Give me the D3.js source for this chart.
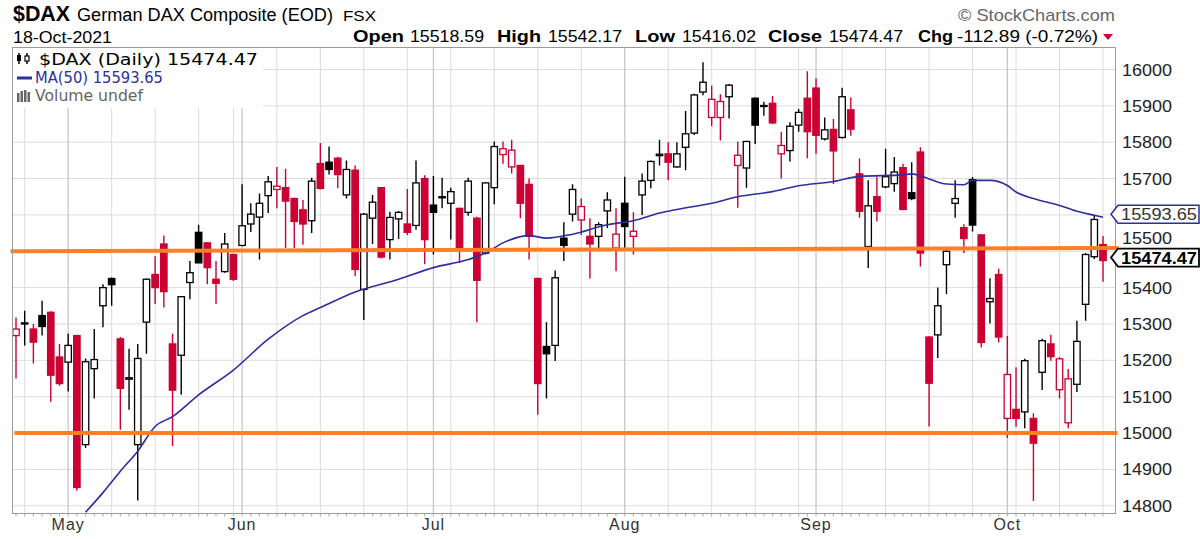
<!DOCTYPE html>
<html><head><meta charset="utf-8">
<script src="https://cdn.jsdelivr.net/npm/d3@7"></script>
<style>body{margin:0;background:#fff}svg{display:block}</style>
</head><body>
<svg id="c" width="1200" height="539"></svg>
<script>
// ---------------- data ----------------
const openP = [15268,15300,15286,15323,15332,15209,15195,15268,14968,15177,
15350,15425,15259,15148,14968,15305,15436,15520,15245,15214,
15414,15552,15523,15423,15444,15491,15516,15575,15594,15653,
15670,15675,15645,15614,15584,15741,15745,15756,15655,15723,
15395,15591,15675,15532,15589,15575,15571,15700,15627,15647,
15632,15618,15607,15591,15495,15675,15766,15732,15736,15684,
15425,15238,15241,15536,15602,15586,15541,15541,15611,15509,
15632,15541,15655,15695,15763,15768,15732,15786,15825,15938,
15868,15868,15925,15736,15729,15921,15899,15907,15768,15777,
15847,15921,15949,15809,15835,15813,15889,15713,15513,15650,
15677,15686,15730,15661,15773,15264,15270,15463,15632,15565,
15697,15545,15361,15436,15040,15065,15058,15040,15167,15245,
15119,15028,15134,15354,15485,15518.59];
const highP = [15318,15336,15300,15364,15335,15245,15273,15270,15205,15286,
15409,15428,15264,15232,15245,15425,15486,15543,15273,15375,
15473,15573,15525,15473,15550,15493,15684,15632,15659,15707,
15732,15727,15648,15641,15702,15798,15788,15760,15750,15736,
15605,15655,15677,15609,15611,15671,15750,15709,15707,15702,
15675,15620,15702,15595,15690,15802,15802,15807,15738,15700,
15427,15305,15447,15580,15684,15645,15591,15580,15662,15618,
15705,15607,15714,15750,15807,15800,15800,15886,15933,16020,
15955,15932,15960,15802,15804,15923,15911,15927,15829,15855,
15891,15995,15975,15868,15864,15950,15923,15755,15695,15705,
15782,15759,15741,15745,15786,15266,15400,15505,15695,15574,
15704,15547,15426,15452,15267,15181,15204,15054,15259,15270,
15209,15176,15309,15495,15599,15542.17];
const lowP = [15150,15241,15191,15268,15086,15130,15114,14841,14959,15095,
15291,15350,15009,15064,14814,15218,15355,15345,14964,15105,
15368,15468,15409,15355,15441,15418,15514,15553,15477,15605,
15618,15509,15509,15518,15550,15670,15711,15673,15645,15432,
15311,15520,15480,15477,15534,15545,15559,15464,15491,15618,
15532,15468,15598,15305,15491,15629,15741,15714,15591,15477,
15050,15095,15198,15473,15582,15545,15425,15509,15564,15445,
15509,15491,15600,15673,15736,15695,15730,15723,15820,15929,
15844,15805,15865,15620,15675,15795,15873,15850,15700,15747,
15829,15756,15768,15805,15685,15810,15818,15592,15454,15582,
15673,15664,15613,15640,15458,15018,15206,15382,15592,15495,
15554,15235,15301,15249,14986,15017,15013,14813,15118,15199,
15095,15013,15113,15309,15479,15416.02];
const closeP = [15286,15303,15250,15293,15159,15136,15241,14850,15196,15202,
15400,15408,15123,15152,15205,15423,15400,15389,15118,15375,
15441,15468,15455,15412,15520,15423,15570,15602,15632,15691,
15679,15638,15582,15575,15693,15673,15725,15711,15725,15450,
15602,15635,15484,15593,15607,15552,15688,15532,15607,15650,
15664,15509,15693,15420,15688,15788,15782,15778,15632,15541,
15136,15218,15427,15516,15670,15623,15520,15573,15641,15547,
15568,15555,15693,15747,15767,15745,15768,15823,15930,15965,
15918,15912,15957,15764,15802,15847,15901,15853,15791,15844,
15882,15829,15819,15834,15776,15925,15836,15610,15625,15610,
15705,15718,15615,15645,15495,15137,15350,15500,15645,15535,
15572,15249,15370,15264,15161,15040,15199,14972,15254,15210,
15204,15149,15252,15491,15587.36,15474.47];
const firstPrevClose = 15310;

// trading calendar (categories)
const startDate = "2021-04-23", endDate = "2021-10-18";
const holidays = ["2021-05-24"];

// 50-day moving average, read at selected candles (candle index, value)
const maIdx = [8,10,12,14,16,18,21,25,29,33,35,39,44,48,52,54,56,59,61,64,68,71,74,76,80,83,87,90,94,97,102,103,105,107,109,110,112,114,115,117,120,122,124,125];
const maVal = [14782,14836,14895,14950,15018,15045,15105,15173,15258,15323,15345,15388,15423,15455,15477,15495,15523,15543,15536,15547,15573,15584,15605,15615,15632,15650,15664,15680,15692,15706,15710,15713,15699,15685,15683,15695,15695,15681,15663,15645,15626,15610,15599,15593.65];

const yTickValues = [14800,14900,15000,15100,15200,15300,15400,15500,15600,15700,15800,15900,16000];
const hiddenTickLabels = [15600];   // covered by the MA value tag in the reference
const upperLine = [15500, 15509];   // orange trend line, left/right price
const lowerLine = [15000, 15000];   // orange support line
const lastClose = 15474.47, lastMA = 15593.65;
const header = {open:"15518.59", high:"15542.17", low:"15416.02", close:"15474.47", chg:"-112.89 (-0.72%)"};

// ---------------- layout ----------------
const svg = d3.select("#c");
const L = 12.5, R = 1115.5, T = 47.5, B = 513.5;
const RED = "#cc0033", ORANGE = "#ff7f27", NAVY = "#2e2e9e";

const parse = d3.utcParse("%Y-%m-%d"), fmt = d3.utcFormat("%Y-%m-%d");
const days = d3.utcDays(parse(startDate), d3.utcDay.offset(parse(endDate), 1))
  .filter(d => d.getUTCDay() !== 0 && d.getUTCDay() !== 6 && !holidays.includes(fmt(d)));
const n = closeP.length;

const x = d3.scaleLinear().domain([0, n - 1]).range([16, 1103]);
const y = d3.scaleLinear().domain([15000, 16000]).range([433, 69.5]);

svg.append("defs").append("clipPath").attr("id","clip")
  .append("rect").attr("x",L).attr("y",T).attr("width",R-L).attr("height",B-T);

// grid
const grid = svg.append("g");
const weekStarts = [], monthStarts = [];
days.forEach((d,i) => {
  if (i > 0 && +d3.utcMonday.floor(d) !== +d3.utcMonday.floor(days[i-1])) weekStarts.push(i);
  if (i > 0 && d.getUTCMonth() !== days[i-1].getUTCMonth()) monthStarts.push(i);
});
grid.selectAll("line.h").data(yTickValues).join("line")
  .attr("x1",L).attr("x2",R).attr("y1",d=>y(d)).attr("y2",d=>y(d))
  .attr("stroke","#dcdcdc").attr("stroke-width",1);
grid.selectAll("line.w").data(weekStarts.filter(i=>!monthStarts.includes(i))).join("line")
  .attr("x1",d=>x(d)).attr("x2",d=>x(d)).attr("y1",T).attr("y2",B)
  .attr("stroke","#dcdcdc").attr("stroke-width",1);
grid.selectAll("line.m").data(monthStarts).join("line")
  .attr("x1",d=>x(d)).attr("x2",d=>x(d)).attr("y1",T).attr("y2",B)
  .attr("stroke","#c8c8c8").attr("stroke-width",1.3);

// legend background
svg.append("rect").attr("x",L+0.5).attr("y",T+0.5).attr("width",250).attr("height",60).attr("fill","#fff");

// candles
const plot = svg.append("g").attr("clip-path","url(#clip)");
const cd = d3.range(n).map(i => {
  const prev = i === 0 ? firstPrevClose : closeP[i-1];
  return {i, o:openP[i], h:highP[i], l:lowP[i], c:closeP[i],
          col: closeP[i] >= prev ? "#000" : RED, filled: closeP[i] < openP[i]};
});
const bw = 6.4;
plot.selectAll("line.wick").data(cd).join("line")
  .attr("x1",d=>x(d.i)).attr("x2",d=>x(d.i)).attr("y1",d=>y(d.h)).attr("y2",d=>y(d.l))
  .attr("stroke",d=>d.col).attr("stroke-width",1.4);
plot.selectAll("rect.body").data(cd).join("rect")
  .attr("x",d=>x(d.i)-bw/2).attr("width",bw)
  .attr("y",d=>y(Math.max(d.o,d.c)))
  .attr("height",d=>Math.max(1, Math.abs(y(d.o)-y(d.c))))
  .attr("fill",d=>d.filled ? d.col : "#fff")
  .attr("stroke",d=>d.col).attr("stroke-width",1.3);

// MA line
plot.append("path").datum(maIdx.map((k,j)=>[k,maVal[j]]))
  .attr("d", d3.line().x(d=>x(d[0])).y(d=>y(d[1])).curve(d3.curveMonotoneX))
  .attr("fill","none").attr("stroke",NAVY).attr("stroke-width",1.6);

// orange lines
svg.append("line").attr("x1",L-2).attr("x2",R+3).attr("y1",y(upperLine[0])).attr("y2",y(upperLine[1]))
  .attr("stroke",ORANGE).attr("stroke-width",4);
svg.append("line").attr("x1",L+2).attr("x2",R+2).attr("y1",y(lowerLine[0])).attr("y2",y(lowerLine[1]))
  .attr("stroke",ORANGE).attr("stroke-width",4);

// frame
svg.append("rect").attr("x",L).attr("y",T).attr("width",R-L).attr("height",B-T)
  .attr("fill","none").attr("stroke","#9a9a9a").attr("stroke-width",1);

// bottom axis ticks & month labels
svg.selectAll("line.tk").data(d3.range(n)).join("line")
  .attr("x1",d=>x(d)).attr("x2",d=>x(d)).attr("y1",B).attr("y2",B+3)
  .attr("stroke","#aaa").attr("stroke-width",1);
const monthFmt = d3.utcFormat("%b");
svg.selectAll("text.mon").data(monthStarts).join("text")
  .attr("x",d=>x(d)).attr("y",530).attr("text-anchor","middle")
  .attr("font-family","Liberation Sans, Arial, sans-serif").attr("font-size",16)
  .attr("letter-spacing",1).attr("fill","#333").text(d=>monthFmt(days[d]));

// value tag positions
const maTagY = y(lastMA) - 3;
const closeTagY = y(lastClose) - 3;
const closeTagTop = closeTagY - 9;

// right axis labels (a label colliding with the close tag sits just above it)
svg.selectAll("text.yl").data(yTickValues.filter(v=>!hiddenTickLabels.includes(v))).join("text")
  .attr("x",1122)
  .attr("y",d=>{ const b = y(d)+6; return (b + 4 > closeTagTop && b - 13 < closeTagTop + 18) ? closeTagTop - 5 : b; })
  .attr("font-family","Liberation Sans, Arial, sans-serif").attr("font-size",17)
  .attr("textLength",50).attr("lengthAdjust","spacingAndGlyphs")
  .attr("fill","#222").text(d=>d);

// value tags
function tag(val, yc, stroke, bold, txtCol){
  const g = svg.append("g");
  g.append("path").attr("d",`M1111,${yc} L1118,${yc-9} L1199,${yc-9} L1199,${yc+9} L1118,${yc+9} Z`)
    .attr("fill","#fff").attr("stroke",stroke).attr("stroke-width",bold?1.8:1.5);
  g.append("text").attr("x",1121).attr("y",yc+6)
    .attr("font-family","Liberation Sans, Arial, sans-serif").attr("font-size",17)
    .attr("font-weight",bold?"bold":"normal").attr("fill",txtCol)
    .attr("textLength",76).attr("lengthAdjust","spacingAndGlyphs")
    .text(d3.format(".2f")(val));
}
tag(lastMA, maTagY, NAVY, false, "#333");
tag(lastClose, closeTagY, "#000", true, "#000");

// header
const F = "Liberation Sans, Arial, sans-serif";
svg.append("text").attr("x",13).attr("y",21).attr("font-family",F).attr("font-weight","bold")
  .attr("font-size",22).attr("textLength",57).attr("lengthAdjust","spacingAndGlyphs").text("$DAX");
svg.append("text").attr("x",77).attr("y",21).attr("font-family",F).attr("font-size",18)
  .attr("textLength",256).attr("lengthAdjust","spacingAndGlyphs").text("German DAX Composite (EOD)");
svg.append("text").attr("x",343).attr("y",21).attr("font-family",F).attr("font-size",15)
  .attr("textLength",33).attr("lengthAdjust","spacingAndGlyphs").text("FSX");
svg.append("text").attr("x",13).attr("y",43).attr("font-family",F).attr("font-size",16)
  .attr("textLength",99).attr("lengthAdjust","spacingAndGlyphs").text("18-Oct-2021");
svg.append("text").attr("x",958).attr("y",21).attr("font-family",F).attr("font-size",17)
  .attr("fill","#666").attr("textLength",157).attr("lengthAdjust","spacingAndGlyphs").text("\u00A9 StockCharts.com");

const row = [
  ["Open",353,51,true],[header.open,410,74,false],
  ["High",497,44,true],[header.high,548,74,false],
  ["Low",635,40,true],[header.low,682,74,false],
  ["Close",768,54,true],[header.close,829,74,false],
  ["Chg",918,35,true],[header.chg,957,141,false]];
svg.selectAll("text.row").data(row).join("text")
  .attr("x",d=>d[1]).attr("y",42).attr("font-family",F).attr("font-size",17)
  .attr("font-weight",d=>d[3]?"bold":"normal")
  .attr("textLength",d=>d[2]).attr("lengthAdjust","spacingAndGlyphs").text(d=>d[0]);
svg.append("path").attr("d","M1103,34 L1113,34 L1108,40 Z").attr("fill",RED);

// legend
const LF = "DejaVu Sans, Verdana, sans-serif";
svg.append("text").attr("x",39).attr("y",65).attr("font-family",LF).attr("font-size",16)
  .attr("textLength",219).attr("lengthAdjust","spacingAndGlyphs").text("$DAX (Daily) 15474.47");
svg.append("text").attr("x",35).attr("y",83).attr("font-family",LF).attr("font-size",15)
  .attr("fill",NAVY).attr("textLength",128).attr("lengthAdjust","spacingAndGlyphs").text("MA(50) 15593.65");
svg.append("text").attr("x",35).attr("y",101).attr("font-family",LF).attr("font-size",15)
  .attr("fill","#666").attr("textLength",108).attr("lengthAdjust","spacingAndGlyphs").text("Volume undef");
// legend icons
const ic = svg.append("g");
ic.append("line").attr("x1",19).attr("x2",19).attr("y1",53).attr("y2",64).attr("stroke","#000").attr("stroke-width",1.5);
ic.append("rect").attr("x",17).attr("y",55).attr("width",4).attr("height",6).attr("fill","#000");
ic.append("line").attr("x1",27).attr("x2",27).attr("y1",53).attr("y2",64).attr("stroke","#000").attr("stroke-width",1.5);
ic.append("rect").attr("x",25).attr("y",56).attr("width",4).attr("height",5).attr("fill","#fff").attr("stroke","#000").attr("stroke-width",1.2);
ic.append("line").attr("x1",17).attr("x2",32).attr("y1",78).attr("y2",78).attr("stroke",NAVY).attr("stroke-width",3);
[[17,93,9],[20.5,91,11],[24,90,12],[27.5,92,10]].forEach(b=>{
  ic.append("rect").attr("x",b[0]).attr("y",b[1]).attr("width",2.5).attr("height",b[2]).attr("fill","#666");
});
</script>
</body></html>
